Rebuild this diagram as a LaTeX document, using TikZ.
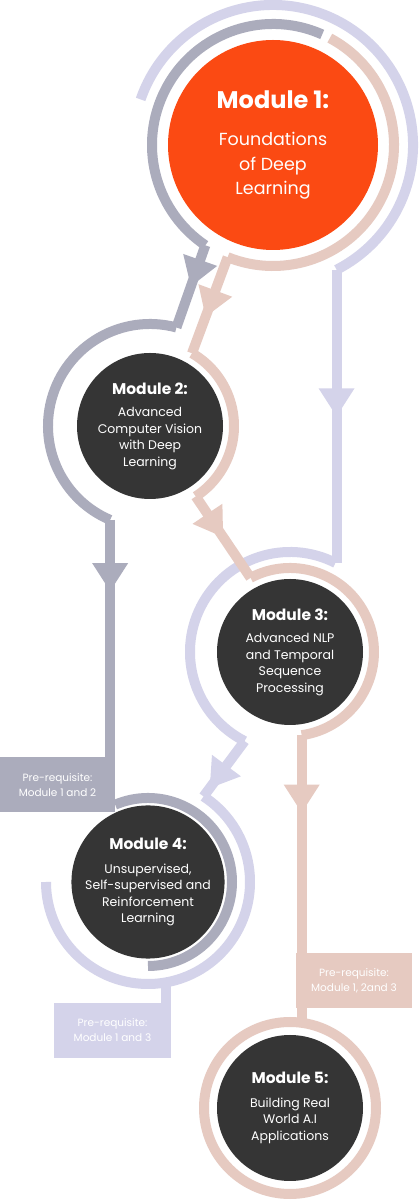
\documentclass[tikz,border=0pt]{standalone}
\usepackage{fontspec}
\setmainfont{Poppins}
\usetikzlibrary{arrows.meta,decorations.markings}

\definecolor{modorange}{HTML}{FB4A13}
\definecolor{moddark}{HTML}{353535}
\definecolor{trackgray}{HTML}{ABACBC}
\definecolor{trackbeige}{HTML}{E6CAC1}
\definecolor{tracklav}{HTML}{D4D3EA}

\newcommand{\modtitle}[1]{{\fontsize{15.5}{19}\selectfont\bfseries #1}}

\tikzset{
  module/.style={circle, fill=moddark, text=white, align=center, inner sep=0pt,
    minimum size=146pt, font=\fontsize{12.5}{16.5}\selectfont},
  prebox/.style={rectangle, fill=#1, text=white, align=center, inner sep=0pt,
    minimum height=55pt, font=\fontsize{10.5}{15}\selectfont},
  graytrack/.style={line width=10pt, color=trackgray},
  beigetrack/.style={line width=10pt, color=trackbeige},
  lavtrack/.style={line width=10pt, color=tracklav},
  midarrow/.style={postaction={decorate}, decoration={markings,
    mark=at position #1 with {\arrow{Triangle[width=36pt,length=28pt,line width=0pt]}}}}
}

\begin{document}
\begin{tikzpicture}[x=1pt,y=1pt]
  \fill[white] (0,0) rectangle (420,1200);
  \useasboundingbox (0,0) rectangle (420,1200);

  % modules
  \node[module, fill=modorange, minimum size=210pt, font=\fontsize{17.5}{24.5}\selectfont] (m1) at (273,1055)
    {{\fontsize{24}{29}\selectfont\bfseries Module 1:}\\[13pt] Foundations\\ of Deep\\ Learning};
  \node[module] (m2) at (150,774) {\modtitle{Module 2:}\\[6pt] Advanced\\ Computer Vision\\ with Deep\\ Learning};
  \node[module] (m3) at (290,548) {\modtitle{Module 3:}\\[6pt] Advanced NLP\\ and Temporal\\ Sequence\\ Processing};
  \node[module] (m4) at (148,318) {\modtitle{Module 4:}\\[7pt] Unsupervised,\\ Self-supervised and\\ Reinforcement\\ Learning};
  \node[module] (m5) at (290,92) {\modtitle{Module 5:}\\[7pt] Building Real\\ World A.I\\ Applications};

  % pre-requisite boxes
  \node[prebox=trackgray, minimum width=115pt] (pre12) at (57.5,415) {Pre-requisite:\\ Module 1 and 2};
  \node[prebox=tracklav, minimum width=117pt] (pre13) at (112.5,169.5) {Pre-requisite:\\ Module 1 and 3};
  \node[prebox=trackbeige, minimum width=116pt] (pre123) at (354,219.5) {Pre-requisite:\\ Module 1, 2and 3};

  % track points
  \coordinate (l1) at ([shift={(-63:140)}]m1.center);
  \coordinate (l2) at ([shift={(63:100)}]m3.center);
  \coordinate (l3) at ([shift={(243:100)}]m3.center);
  \coordinate (l4) at ([shift={(57:102)}]m4.center);
  \coordinate (l5) at ([shift={(-80:102)}]m4.center);
  \coordinate (g1) at ([shift={(236:121)}]m1.center);
  \coordinate (g2) at ([shift={(75:102)}]m2.center);
  \coordinate (g3) at ([shift={(247:102)}]m2.center);
  \coordinate (b1) at ([shift={(248:121)}]m1.center);
  \coordinate (b2) at ([shift={(60:84)}]m2.center);
  \coordinate (b3) at ([shift={(-57:84)}]m2.center);
  \coordinate (b4) at ([shift={(118:84)}]m3.center);
  \coordinate (b5) at ([shift={(-82:84)}]m3.center);
  \coordinate (b6) at ([shift={(90:86)}]m5.center);

  % lavender track: module 1 -> 3 -> 4
  \draw[lavtrack] ([shift={(161:140)}]m1.center) arc[start angle=161, end angle=-63, radius=140];
  \draw[lavtrack, midarrow=0.5] (l1) -- (l1 |- l2);
  \draw[lavtrack] (l2) arc[start angle=63, end angle=243, radius=100];
  \draw[lavtrack, midarrow=0.85] (l3) -- (l4);
  \draw[lavtrack] (l4) arc[start angle=57, end angle=-180, radius=102];
  \draw[lavtrack] (l5) -- (l5 |- pre13.north);

  % gray track: module 1 -> 2 -> 4
  \draw[graytrack] ([shift={(66:121)}]m1.center) arc[start angle=66, end angle=236, radius=121];
  \draw[graytrack, midarrow=0.5] (g1) -- (g2);
  \draw[graytrack] (g2) arc[start angle=75, end angle=247, radius=102];
  \draw[graytrack, midarrow=0.3] (g3) -- (g3 |- pre12.north);
  \draw[graytrack] ([shift={(113:84)}]m4.center) arc[start angle=113, end angle=-90, radius=84];

  % beige track: module 1 -> 2 -> 3 -> 5
  \draw[beigetrack] ([shift={(62:121)}]m1.center) arc[start angle=62, end angle=-112, radius=121];
  \draw[beigetrack, midarrow=0.62] (b1) -- (b2);
  \draw[beigetrack] (b2) arc[start angle=60, end angle=-57, radius=84];
  \draw[beigetrack, midarrow=0.5] (b3) -- (b4);
  \draw[beigetrack] (b4) arc[start angle=118, end angle=-82, radius=84];
  \draw[beigetrack, midarrow=0.27] (b5) -- (b5 |- b6);
  \draw[beigetrack] (m5.center) circle[radius=86];
\end{tikzpicture}
\end{document}
